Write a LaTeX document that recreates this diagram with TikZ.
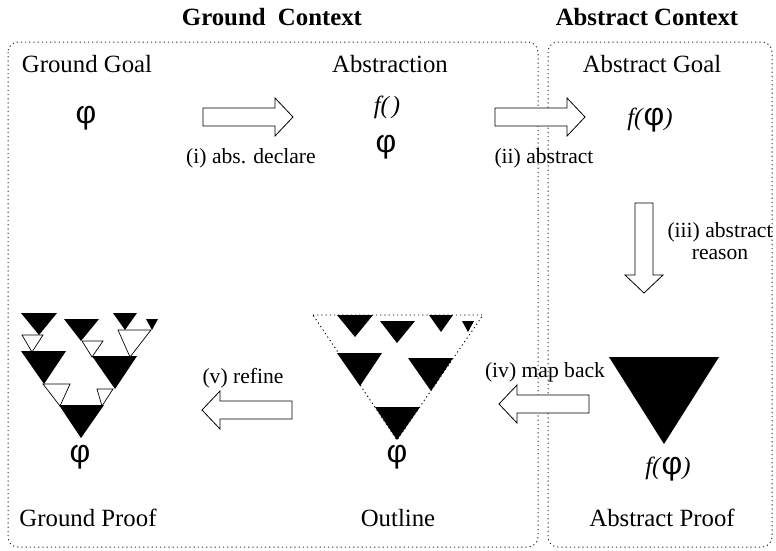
\documentclass[tikz,border=0pt]{standalone}
\usepackage{fontspec}
\setmainfont{Liberation Serif}
\newfontfamily\phifont{Liberation Sans}
\newcommand{\myphi}{{\phifont\fontsize{32}{33}\selectfont φ}}
\newcommand{\bigtxt}{\fontsize{24.8}{28}\selectfont}
\newcommand{\smtxt}{\fontsize{21.6}{22}\selectfont}
\newcommand{\fphi}{\textit{f(}\myphi\textit{)}}
\begin{document}
\begin{tikzpicture}[x=1pt,y=-1pt,
  ctx/.style={draw=black!80, line width=1pt, dash pattern=on 1.2pt off 3pt, rounded corners=10pt},
  lbl/.style={inner sep=0pt, font=\bigtxt, anchor=base},
  steplbl/.style={inner sep=0pt, font=\smtxt, anchor=base},
  ttl/.style={inner sep=0pt, font=\bigtxt\bfseries, anchor=base},
  sym/.style={inner sep=0pt, font=\bigtxt},
  blkarrow/.style={draw=black, fill=white, line width=0.8pt, line join=miter},
  tri/.style={fill=black},
  wtri/.style={draw=black, fill=white, line width=0.7pt},
  outl/.style={draw=black, dash pattern=on 1.2pt off 3pt, line width=0.9pt},
  blk/.pic={\draw[blkarrow] (0,-9) -- (72,-9) -- (72,-19) -- (90,0) -- (72,19) -- (72,9) -- (0,9) -- cycle;}
]
\useasboundingbox (0,0) rectangle (776,550);

% context boxes
\draw[ctx] (8,42) rectangle (538,547);
\draw[ctx] (548,42) rectangle (772,547);
\node[ttl] (gctx) at (272,25) {Ground\ \ Context};
\node[ttl] (actx) at (647,25) {Abstract Context};

% top row
\node[lbl] (gg) at (87,72) {Ground Goal};
\node[sym] (ggphi) at (86,118) {\myphi};
\node[lbl] (abs) at (390,72) {Abstraction};
\node[sym] (absf) at (387,107) {\textit{f(\kern3pt)}};
\node[sym] (absphi) at (386,147) {\myphi};
\node[lbl] (ag) at (652,72) {Abstract Goal};
\node[sym] (agphi) at (650,120) {\fphi};

% arrows
\coordinate (a1) at (203,117);
\coordinate (a2) at (495,117);
\coordinate (a3) at (644,203);
\coordinate (a4) at (589,404);
\coordinate (a5) at (292,410);
\pic at (a1) {blk};
\pic at (a2) {blk};
\pic[rotate=-90] at (a3) {blk};
\pic[rotate=180] at (a4) {blk};
\pic[rotate=180] at (a5) {blk};

\node[steplbl] (l1) at (251,163) {(i) abs. declare};
\node[steplbl] (l2) at (544,163) {(ii) abstract};
\node[inner sep=0pt, font=\smtxt, align=center] (l3) at (720,241) {(iii) abstract\\reason};
\node[steplbl] (l4) at (545,377) {(iv) map back};
\node[steplbl] (l5) at (243,383) {(v) refine};

% abstract proof
\fill[tri] (609,357) -- (719,357) -- (664,444) -- cycle;
\node[sym] (apphi) at (668,469) {\fphi};

% outline
\draw[outl] (313,315) -- (483,315) -- (397,440) -- cycle;
\newcommand{\blacktris}{%
  \fill[tri] (337,315) -- (373,315) -- (355,337) -- cycle;
  \fill[tri] (380,321) -- (415,321) -- (397,343) -- cycle;
  \fill[tri] (429,315) -- (453,315) -- (441,332) -- cycle;
  \fill[tri] (462,321) -- (474,321) -- (468,332) -- cycle;
  \fill[tri] (337,353) -- (382,353) -- (360,386) -- cycle;
  \fill[tri] (408,358) -- (453,358) -- (431,391) -- cycle;
  \fill[tri] (375,407) -- (420,407) -- (397,440) -- cycle;}
\blacktris
\node[sym] (olphi) at (397,457) {\myphi};

% ground proof
\draw[wtri] (22,335) -- (43,335) -- (32,352) -- cycle;
\draw[wtri] (82,341) -- (103,341) -- (92,357) -- cycle;
\draw[wtri] (118,330) -- (151,330) -- (130,357) -- cycle;
\draw[wtri] (43,384) -- (70,384) -- (60,406) -- cycle;
\draw[wtri] (97,389) -- (113,389) -- (102,406) -- cycle;
\begin{scope}[shift={(-316,-2)}]
\blacktris
\end{scope}
\node[sym] (gpphi) at (80,457) {\myphi};

% bottom labels
\node[lbl] (gp) at (88,526) {Ground Proof};
\node[lbl] (ol) at (398,526) {Outline};
\node[lbl] (ap) at (662,526) {Abstract Proof};
\end{tikzpicture}
\end{document}
